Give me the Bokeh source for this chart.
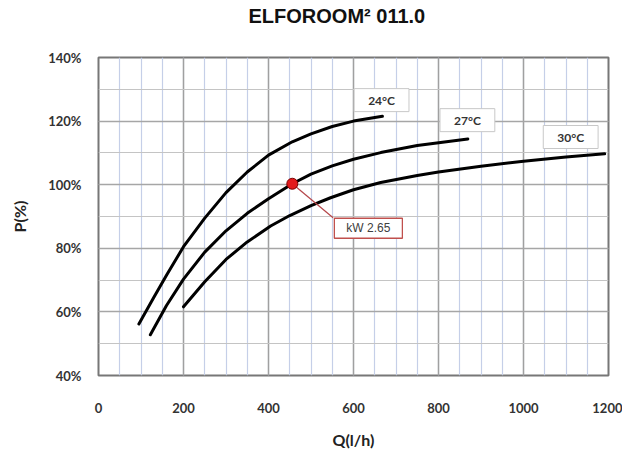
from bokeh.plotting import figure
from bokeh.models import SingleIntervalTicker, Label, Range1d, Title
from bokeh.embed import file_html
from bokeh.resources import INLINE

# ---- data ----
q24 = [95, 130, 160, 200, 250, 300, 350, 400, 456, 500, 550, 600, 668]
p24 = [56.2, 64.5, 71.5, 80.5, 89.5, 97.5, 104, 109.3, 113.5, 116, 118.3, 120, 121.5]

q27 = [122, 160, 200, 250, 300, 350, 400, 456, 500, 550, 600, 664, 750, 869]
p27 = [52.8, 62, 70.3, 78.8, 85.5, 91, 95.6, 100.3, 103.3, 105.9, 108, 110.1, 112.3, 114.4]

q30 = [200, 250, 300, 350, 405, 450, 500, 546, 600, 664, 750, 800, 900, 1000, 1100, 1191]
p30 = [61.6, 69.5, 76.5, 82, 87, 90.3, 93.4, 95.9, 98.4, 100.7, 102.9, 104, 105.8, 107.4, 108.7, 109.7]

series_names = ["24°C", "27°C", "30°C"]
series_label_q = [666, 868, 1111]
series_label_p = [126.6, 120.3, 115.0]

point_q = [456]
point_p = [100.3]
point_text = "kW 2.65"
point_label_q = 635
point_label_p = 86.3
leader_end_q = 552
leader_end_p = 89.6

title_text = "ELFOROOM² 011.0"

y_ticks = [40, 60, 80, 100, 120, 140]
y_tick_labels = ["40%", "60%", "80%", "100%", "120%", "140%"]

# ---- figure ----
p = figure(frame_width=510, frame_height=318, output_backend="svg", toolbar_location=None,
           x_range=Range1d(0, 1200), y_range=Range1d(40, 140), title=None,
           min_border_left=98, min_border_right=14, min_border_top=57, min_border_bottom=70,
           background_fill_color="white", border_fill_color="white")

# spacer (closest to the frame) then the real title above it
p.add_layout(Title(text=" ", text_font_size="10px", standoff=16), "above")
p.add_layout(Title(text=title_text, text_font="Liberation Sans", text_font_size="20px",
                   text_font_style="bold", text_color="#111111", align="left", offset=150,
                   standoff=4), "above")

p.xaxis.ticker = SingleIntervalTicker(interval=200, num_minor_ticks=4)
p.yaxis.ticker = SingleIntervalTicker(interval=20, num_minor_ticks=2)
p.yaxis.major_label_overrides = {t: s for t, s in zip(y_ticks, y_tick_labels)}

p.xgrid.grid_line_color = "#a0a0a0"
p.xgrid.grid_line_width = 1.5
p.xgrid.minor_grid_line_color = "#c5cfe8"
p.xgrid.minor_grid_line_width = 1.2
p.ygrid.grid_line_color = "#a6a6a6"
p.ygrid.grid_line_width = 1.5
p.ygrid.minor_grid_line_color = "#c4c4c4"
p.ygrid.minor_grid_line_width = 1.2

p.outline_line_color = "#777777"
p.outline_line_width = 2

for ax in p.axis:
    ax.axis_line_color = None
    ax.major_tick_line_color = None
    ax.minor_tick_line_color = None
    ax.major_label_text_font = "Lato"
    ax.major_label_text_font_style = "bold"
    ax.major_label_text_font_size = "13px"
    ax.major_label_text_color = "#333333"
    ax.axis_label_text_font = "Lato"
    ax.axis_label_text_font_style = "bold"
    ax.axis_label_text_font_size = "16px"
    ax.axis_label_text_color = "#222222"

p.xaxis.major_label_standoff = 21
p.yaxis.major_label_standoff = 11
p.xaxis.axis_label = "Q(l/h)"
p.yaxis.axis_label = "P(%)"
p.xaxis.axis_label_standoff = 14
p.yaxis.axis_label_standoff = 16

# curves
for qs, ps in [(q24, p24), (q27, p27), (q30, p30)]:
    p.line(qs, ps, line_color="black", line_width=3, line_cap="round", line_join="round")

# leader line and point
p.segment(x0=point_q, y0=point_p, x1=[leader_end_q], y1=[leader_end_p],
          line_color="#b5464a", line_width=1.2)
p.scatter(point_q, point_p, size=11, fill_color="#e31a1c", line_color="#7a0000", line_width=1)

for name, lq, lp in zip(series_names, series_label_q, series_label_p):
    p.add_layout(Label(x=lq, y=lp, text=name, text_align="center", text_baseline="middle",
                       text_font="Lato", text_font_style="bold", text_font_size="12px",
                       text_color="#333333",
                       background_fill_color="white", border_line_color="#c8c8c8",
                       border_line_width=1,
                       padding=dict(left=14, right=14, top=4, bottom=4)))

p.add_layout(Label(x=point_label_q, y=point_label_p, text=point_text, text_align="center",
                   text_baseline="middle", text_font="Liberation Sans", text_font_size="12px",
                   text_color="#404040", background_fill_color="white",
                   border_line_color="#c0504d", border_line_width=1.3,
                   padding=dict(left=12, right=12, top=3, bottom=3)))

open("out.html", "w").write(file_html(p, INLINE))
